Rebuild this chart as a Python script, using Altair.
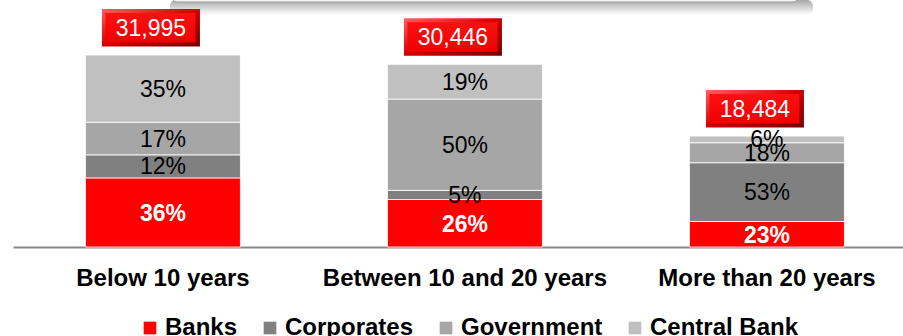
import altair as alt
import pandas as pd

# Maturity buckets, totals and holder shares (%)
categories = ["Below 10 years", "Between 10 and 20 years", "More than 20 years"]
totals = [31995, 30446, 18484]
series = ["Banks", "Corporates", "Government", "Central Bank"]
banks = [36, 26, 23]
corporates = [12, 5, 53]
government = [17, 50, 18]
central_bank = [35, 19, 6]
colors = ["#ff0000", "#808080", "#a6a6a6", "#c0c0c0"]

FONT = "Liberation Sans"

shares = [banks, corporates, government, central_bank]
rows = []
for si, name in enumerate(series):
    for ci, cat in enumerate(categories):
        rows.append({
            "category": cat,
            "series": name,
            "order": si,
            "share": shares[si][ci],
            "amount": totals[ci] * shares[si][ci] / 100.0,
        })
seg = pd.DataFrame(rows)
tot = pd.DataFrame({"category": categories, "total": totals})

x_enc = alt.X(
    "category:N",
    sort=categories,
    scale=alt.Scale(paddingInner=0.487, paddingOuter=0.217, align=0.553),
    axis=alt.Axis(
        title=None, labelAngle=0, labelFont=FONT, labelFontSize=24,
        labelFontWeight="bold", labelColor="black", labelLimit=400,
        labelPadding=19, ticks=False, domainColor="#888888", domainWidth=2,
    ),
)
y_scale = alt.Scale(domain=[0, 40000], nice=False)

base = (
    alt.Chart(seg)
    .transform_stack(stack="amount", groupby=["category"], as_=["y0", "y1"],
                     sort=[alt.SortField("order", order="ascending")])
    .transform_calculate(mid="(datum.y0 + datum.y1) / 2", label="datum.share + '%'")
)

bars = base.mark_bar(stroke="white", strokeWidth=0.8).encode(
    x=x_enc,
    y=alt.Y("y1:Q", scale=y_scale, axis=None),
    y2="y0:Q",
    color=alt.Color(
        "series:N",
        scale=alt.Scale(domain=series, range=colors),
        legend=alt.Legend(
            orient="none", legendX=125, legendY=309, direction="horizontal",
            columns=4, title=None, symbolType="square", symbolSize=160,
            symbolStrokeWidth=0, labelFont=FONT, labelFontSize=24,
            labelFontWeight="bold", labelColor="black", labelOffset=3,
            columnPadding=20, padding=0, labelLimit=300,
        ),
    ),
    order=alt.Order("order:Q"),
)

bank_labels = base.transform_filter(alt.datum.series == "Banks").mark_text(
    font=FONT, fontSize=23, fontWeight="bold", color="white", baseline="middle", dy=2
).encode(x=alt.X("category:N", sort=categories), y=alt.Y("mid:Q", scale=y_scale), text="label:N")

other_labels = base.transform_filter(alt.datum.series != "Banks").mark_text(
    font=FONT, fontSize=23, color="black", baseline="middle", dy=1
).encode(x=alt.X("category:N", sort=categories), y=alt.Y("mid:Q", scale=y_scale), text="label:N")

# Bevelled red badge holding each bucket total
bevel = alt.Gradient(
    gradient="linear", x1=0, y1=0, x2=1, y2=1,
    stops=[alt.GradientStop(color="#ff6060", offset=0),
           alt.GradientStop(color="#d00000", offset=0.5),
           alt.GradientStop(color="#700000", offset=1)],
)
face = alt.Gradient(
    gradient="linear", x1=0, y1=0, x2=0, y2=1,
    stops=[alt.GradientStop(color="#ff1010", offset=0),
           alt.GradientStop(color="#f00000", offset=1)],
)
badge_outer = alt.Chart(tot).mark_bar(
    width=98, xOffset=-12, yOffset=-46, y2Offset=-8.5, fill=bevel
).encode(x=alt.X("category:N", sort=categories), y=alt.Y("total:Q", scale=y_scale), y2="total:Q")
badge_inner = alt.Chart(tot).mark_bar(
    width=90, xOffset=-12.5, yOffset=-42, y2Offset=-12.5, fill=face
).encode(x=alt.X("category:N", sort=categories), y=alt.Y("total:Q", scale=y_scale), y2="total:Q")
badge_text = alt.Chart(tot).mark_text(
    font=FONT, fontSize=23, color="white", baseline="middle", dx=-12, dy=-26
).encode(x=alt.X("category:N", sort=categories), y=alt.Y("total:Q", scale=y_scale),
         text=alt.Text("total:Q", format=","))

# Edge of the header panel with its soft drop shadow
one = pd.DataFrame({"k": [0]})
shadow = alt.Chart(one).mark_rect(
    cornerRadius=6,
    fill=alt.Gradient(gradient="linear", x1=0, y1=0, x2=0, y2=1,
                      stops=[alt.GradientStop(color="#a8a8a8", offset=0),
                             alt.GradientStop(color="#ffffff", offset=1)]),
).encode(x=alt.value(157), x2=alt.value(800), y=alt.value(-7), y2=alt.value(8))
panel = alt.Chart(one).mark_rect(
    cornerRadius=5, fill="#f4f4f4", stroke="#9a9a9a", strokeWidth=1
).encode(x=alt.value(159), x2=alt.value(785), y=alt.value(-20), y2=alt.value(-5))

chart = (
    alt.layer(shadow, panel, bars, bank_labels, other_labels, badge_outer, badge_inner, badge_text)
    .properties(
        width=890, height=240,
        padding={"left": 13, "top": 7, "right": 0, "bottom": 89},
        autosize=alt.AutoSizeParams(type="none"),
        background="white",
    )
    .configure_view(stroke=None)
)

chart.save("out.html", embed_options={"renderer": "svg", "actions": False})
